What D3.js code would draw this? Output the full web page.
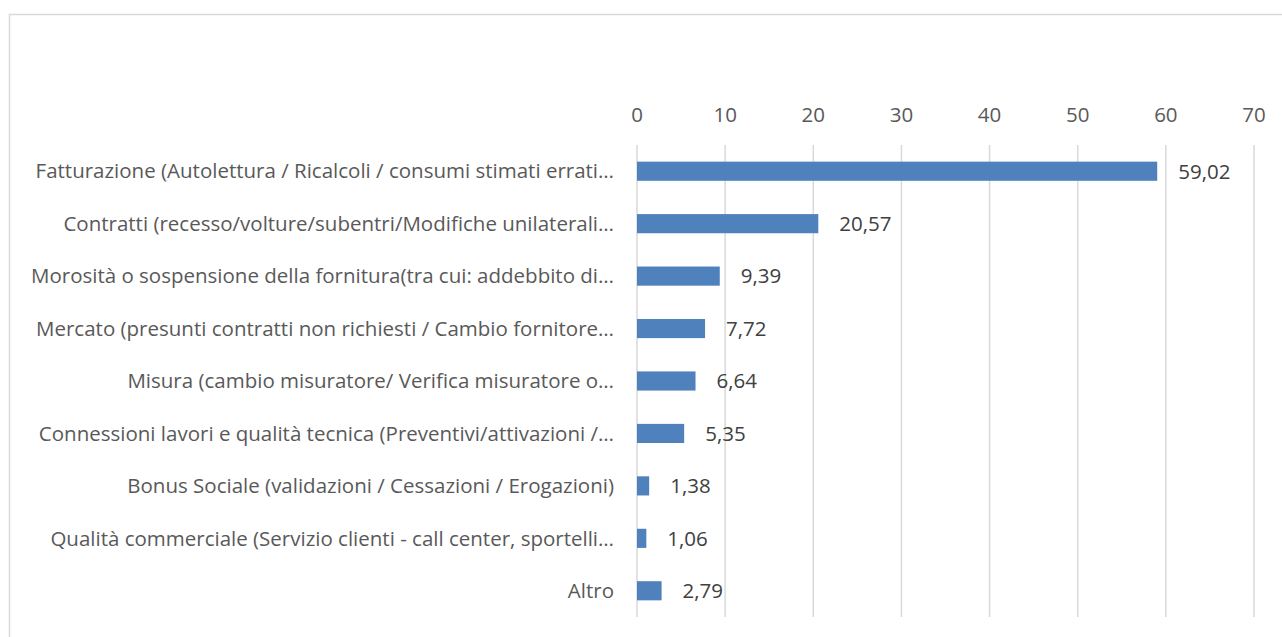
<!DOCTYPE html>
<html lang="it">
<head>
    <meta charset="UTF-8">
    <title>Reclami per categoria</title>
    <script src="https://d3js.org/d3.v7.min.js"></script>
    <style>
        body { margin: 0; background: #fff; }
        svg { display: block; }
        .tick-label, .cat-label { font-family: "Open Sans", sans-serif; font-size: 20.5px; fill: #595959; }
        .val-label { font-family: "Open Sans", sans-serif; font-size: 20.5px; fill: #404040; }
    </style>
</head>
<body>
<svg id="chart" width="1282" height="637"></svg>
<script>
    // data
    const categories = [
        "Fatturazione (Autolettura / Ricalcoli / consumi stimati errati…",
        "Contratti (recesso/volture/subentri/Modifiche unilaterali…",
        "Morosità o sospensione della fornitura(tra cui: addebbito di…",
        "Mercato (presunti contratti non richiesti / Cambio fornitore…",
        "Misura (cambio misuratore/ Verifica misuratore o…",
        "Connessioni lavori e qualità tecnica (Preventivi/attivazioni /…",
        "Bonus Sociale (validazioni / Cessazioni / Erogazioni)",
        "Qualità commerciale (Servizio clienti - call center, sportelli…",
        "Altro"
    ];
    const values = [59.02, 20.57, 9.39, 7.72, 6.64, 5.35, 1.38, 1.06, 2.79];
    const xTicks = [0, 10, 20, 30, 40, 50, 60, 70];

    const svg = d3.select("#chart");

    // outer frame of the chart area
    svg.append("rect")
        .attr("x", 9.5).attr("y", 14.5)
        .attr("width", 1300).attr("height", 650)
        .attr("fill", "none")
        .attr("stroke", "#d9d9d9")
        .attr("stroke-width", 1.5);

    const x = d3.scaleLinear().domain([0, 70]).range([637, 1254]);
    const y = d3.scaleBand()
        .domain(categories)
        .range([145, 617])
        .paddingInner(0.635)
        .paddingOuter(0.3175);

    // gridlines
    svg.append("g").selectAll("line")
        .data(xTicks)
        .join("line")
        .attr("x1", d => x(d)).attr("x2", d => x(d))
        .attr("y1", 145).attr("y2", 617)
        .attr("stroke", "#d9d9d9")
        .attr("stroke-width", 1.5);

    // top axis labels
    svg.append("g").selectAll("text")
        .data(xTicks)
        .join("text")
        .attr("class", "tick-label")
        .attr("x", d => x(d))
        .attr("y", 122)
        .attr("text-anchor", "middle")
        .text(d => d);

    // category labels
    svg.append("g").selectAll("text")
        .data(categories)
        .join("text")
        .attr("class", "cat-label")
        .attr("x", 614)
        .attr("y", d => y(d) + y.bandwidth() / 2)
        .attr("dy", "0.35em")
        .attr("text-anchor", "end")
        .text(d => d);

    // bars
    svg.append("g").selectAll("rect")
        .data(values)
        .join("rect")
        .attr("x", x(0))
        .attr("y", (d, i) => y(categories[i]))
        .attr("width", d => x(d) - x(0))
        .attr("height", y.bandwidth())
        .attr("fill", "#4f81bd");

    // value labels
    const fmt = d => d.toFixed(2).replace(".", ",");
    svg.append("g").selectAll("text")
        .data(values)
        .join("text")
        .attr("class", "val-label")
        .attr("x", d => x(d) + 21)
        .attr("y", (d, i) => y(categories[i]) + y.bandwidth() / 2)
        .attr("dy", "0.36em")
        .text(fmt);
</script>
</body>
</html>
